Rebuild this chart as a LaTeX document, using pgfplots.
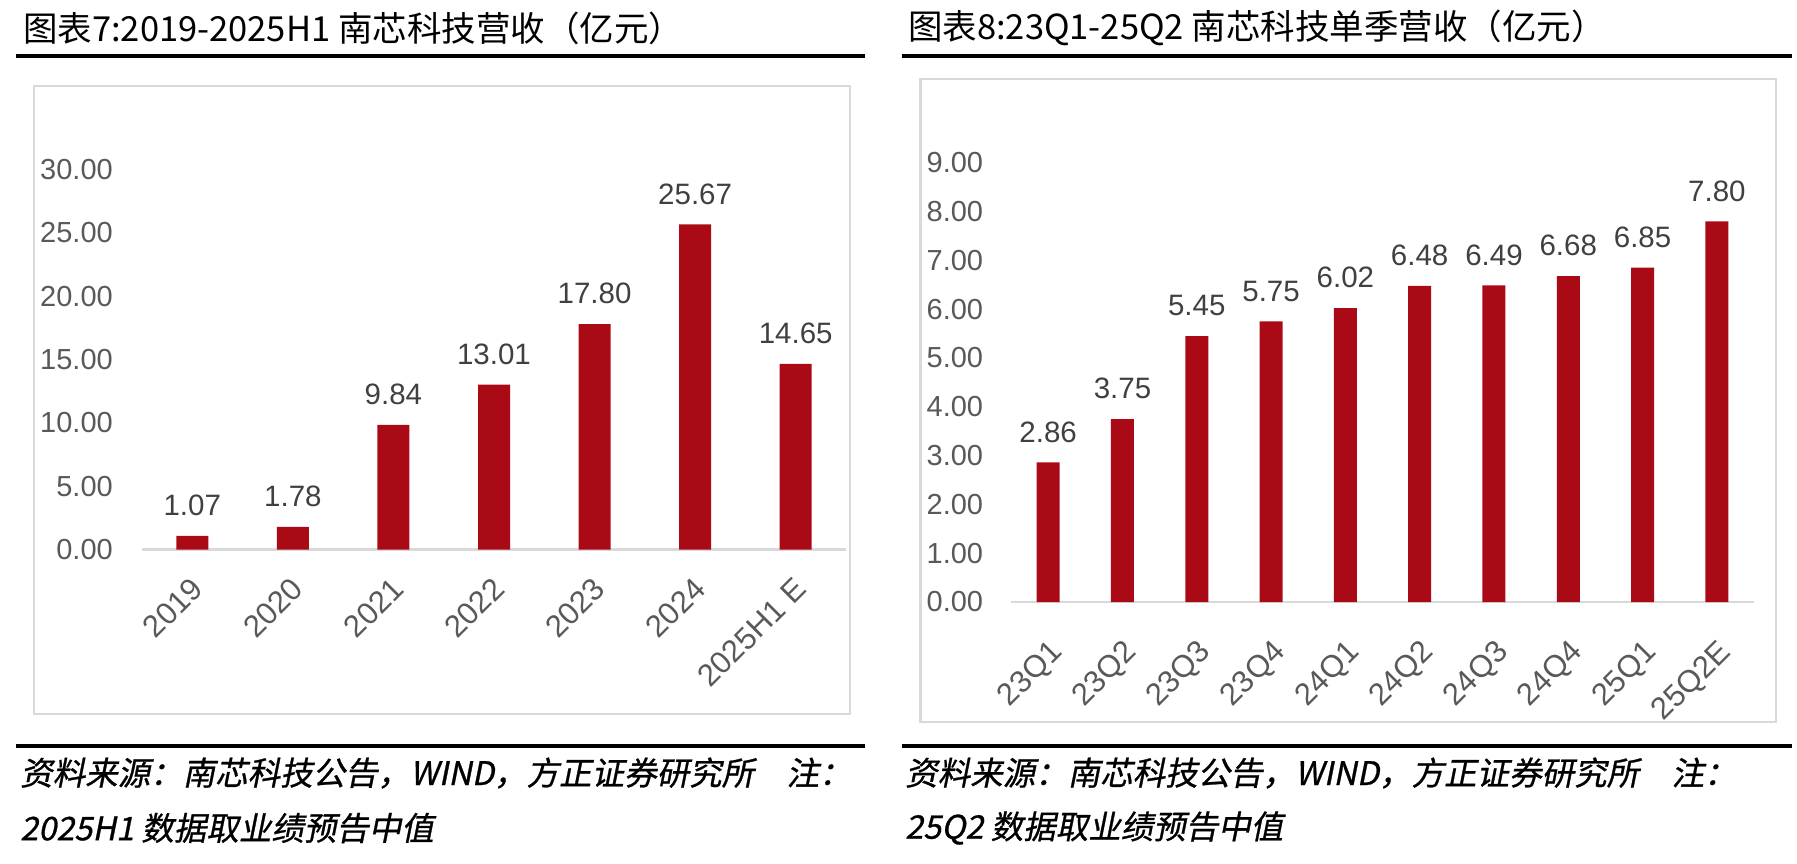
\documentclass[border=0pt]{standalone}
\usepackage{fontspec}
\setmainfont{Liberation Sans}
\newfontfamily\cjk{Noto Sans CJK SC}
\newfontfamily\cjkit[FakeSlant=0.2,FakeBold=0.8]{Noto Sans CJK SC}
\usepackage{pgfplots}
\pgfplotsset{compat=1.18}
\definecolor{barred}{HTML}{A90A16}
\definecolor{framegray}{HTML}{D9D9D9}
\definecolor{ticktext}{HTML}{595959}
\definecolor{labeltext}{HTML}{404040}

\pgfplotsset{
  revbars/.style={
    scale only axis, ybar, bar shift=0pt, enlargelimits=false, clip=false,
    axis x line*=bottom, axis y line*=left,
    x axis line style={framegray, line width=2.5pt},
    y axis line style={draw=none},
    major tick length=0pt, tick style={draw=none},
    xtick=data, ymin=0,
    /pgf/number format/assume math mode=true,
    yticklabel style={font=\fontsize{29}{30}\selectfont, text=ticktext, inner sep=0pt, anchor=east,
      /pgf/number format/fixed, /pgf/number format/fixed zerofill, /pgf/number format/precision=2},
    nodes near coords={\pgfmathprintnumber[fixed,fixed zerofill,precision=2]{\pgfplotspointmeta}},
    every node near coord/.append style={font=\fontsize{29.5}{30}\selectfont, text=labeltext,
      anchor=south, inner sep=0pt, yshift=19.8pt},
  }
}

\begin{document}
\begin{tikzpicture}
\path[use as bounding box] (0pt,0pt) rectangle (1797pt,-863pt);

% titles and rules
\node[anchor=west, inner sep=0pt] at (23pt,-28pt) {\cjk\fontsize{34.5}{37}\selectfont 图表7:2019-2025H1 南芯科技营收（亿元）};
\node[anchor=west, inner sep=0pt] at (908pt,-28pt) {\cjk\fontsize{34.5}{37}\selectfont 图表8:23Q1-25Q2 南芯科技单季营收（亿元）};
\draw[black, line width=4pt] (16pt,-55.7pt) -- (865pt,-55.7pt);
\draw[black, line width=4pt] (902pt,-55.7pt) -- (1792pt,-55.7pt);
\draw[black, line width=4pt] (16pt,-745.7pt) -- (865pt,-745.7pt);
\draw[black, line width=4pt] (902pt,-745.7pt) -- (1792pt,-745.7pt);

% chart frames
\draw[framegray, line width=2.5pt] (34pt,-86pt) rectangle (850pt,-714pt);
\draw[framegray, line width=2.5pt] (920.7pt,-79pt) rectangle (1776pt,-722pt);

% left chart
\begin{axis}[revbars,
  at={(142pt,-549.5pt)}, anchor=south west,
  width=704pt, height=380pt,
  xmin=-0.5, xmax=6.5, ymax=30, ytick={0,5,...,30},
  bar width=32pt,
  yticklabel style={xshift=-29pt},
  xticklabels={2019,2020,2021,2022,2023,2024,2025H1 E},
  xticklabel style={font=\fontsize{31}{32}\selectfont, text=ticktext, inner sep=0pt,
    xshift=-3pt, yshift=-26pt, rotate=45, anchor=north east},
]
\addplot[fill=barred, draw=none] coordinates {
  (0,1.07) (1,1.78) (2,9.84) (3,13.01) (4,17.80) (5,25.67) (6,14.65)
};
\end{axis}

% right chart
\begin{axis}[revbars,
  at={(1011pt,-602pt)}, anchor=south west,
  width=743pt, height=439.2pt,
  xmin=-0.5, xmax=9.5, ymax=9, ytick={0,1,...,9},
  bar width=23pt,
  yticklabel style={xshift=-27.7pt},
  xticklabels={23Q1,23Q2,23Q3,23Q4,24Q1,24Q2,24Q3,24Q4,25Q1,25Q2E},
  xticklabel style={font=\fontsize{31}{32}\selectfont, text=ticktext, inner sep=0pt,
    xshift=0pt, yshift=-36pt, rotate=45, anchor=north east},
]
\addplot[fill=barred, draw=none] coordinates {
  (0,2.86) (1,3.75) (2,5.45) (3,5.75) (4,6.02) (5,6.48) (6,6.49) (7,6.68) (8,6.85) (9,7.80)
};
\end{axis}

% source notes
\node[anchor=west, inner sep=0pt] at (20pt,-773pt) {\cjkit\fontsize{32.5}{35}\selectfont 资料来源：南芯科技公告，WIND，方正证券研究所\hspace{1em}注：};
\node[anchor=west, inner sep=0pt] at (20pt,-828pt) {\cjkit\fontsize{32.5}{35}\selectfont 2025H1 数据取业绩预告中值};
\node[anchor=west, inner sep=0pt] at (905pt,-773pt) {\cjkit\fontsize{32.5}{35}\selectfont 资料来源：南芯科技公告，WIND，方正证券研究所\hspace{1em}注：};
\node[anchor=west, inner sep=0pt] at (905pt,-828pt) {\cjkit\fontsize{32.5}{35}\selectfont 25Q2 数据取业绩预告中值};
\end{tikzpicture}
\end{document}
